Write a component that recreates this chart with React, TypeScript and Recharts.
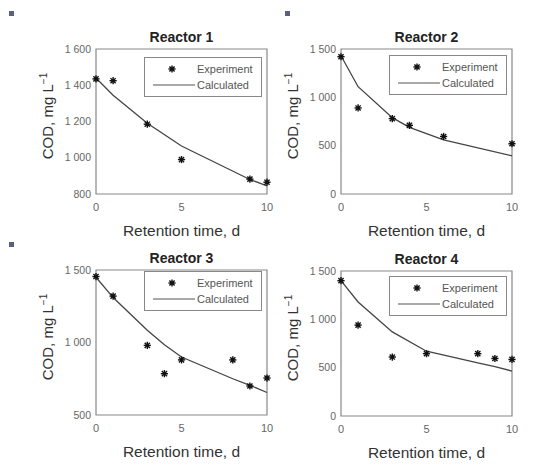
import { ComposedChart, Line, Scatter, XAxis, YAxis, ReferenceArea } from "recharts"

const FONT = '"Liberation Sans", Arial, sans-serif'

// retention times (d) and COD values (mg/L) per reactor
const days1 = [0, 1, 3, 5, 9, 10]
const exp1 = [1435, 1425, 1185, 990, 882, 865]
const calc1 = [1440, 1345, 1190, 1065, 880, 845]

const days2 = [0, 1, 3, 4, 6, 10]
const exp2 = [1420, 890, 780, 710, 595, 520]
const calc2 = [1430, 1110, 790, 690, 560, 395]

const days3 = [0, 1, 3, 4, 5, 8, 9, 10]
const exp3 = [1455, 1320, 980, 785, 880, 880, 700, 755]
const calc3 = [1450, 1310, 1085, 985, 900, 750, 705, 655]

const days4 = [0, 1, 3, 5, 8, 9, 10]
const exp4 = [1400, 940, 610, 645, 645, 595, 585]
const calc4 = [1400, 1180, 870, 670, 550, 510, 465]

const xTicks = [0, 5, 10]
const yTicks1 = [800, 1000, 1200, 1400, 1600]
const yTicks2 = [0, 500, 1000, 1500]
const yTicks3 = [500, 1000, 1500]

const fmt = (v: number) => (v >= 1000 ? `${Math.floor(v / 1000)} ${String(v % 1000).padStart(3, "0")}` : `${v}`)

function Star(props: any) {
  const { cx, cy } = props
  const r = 3.6
  const d = r * 0.72
  return (
    <g stroke="#111" strokeWidth={1.4}>
      <line x1={cx - r} y1={cy} x2={cx + r} y2={cy} />
      <line x1={cx} y1={cy - r} x2={cx} y2={cy + r} />
      <line x1={cx - d} y1={cy - d} x2={cx + d} y2={cy + d} />
      <line x1={cx - d} y1={cy + d} x2={cx + d} y2={cy - d} />
      <circle cx={cx} cy={cy} r={1.8} fill="#111" stroke="none" />
    </g>
  )
}

function LegendBox() {
  return (
    <svg width={118} height={40} style={{ display: "block" }}>
      <rect x={0.5} y={0.5} width={117} height={39} fill="#fff" stroke="#888" />
      <Star cx={28} cy={12} />
      <text x={53} y={16} fontSize={11} fill="#555" fontFamily={FONT}>Experiment</text>
      <line x1={9} y1={28} x2={51} y2={28} stroke="#555" strokeWidth={1.2} />
      <text x={53} y={32} fontSize={11} fill="#555" fontFamily={FONT}>Calculated</text>
    </svg>
  )
}

type PanelProps = {
  title: string
  days: number[]
  exp: number[]
  calc: number[]
  yTicks: number[]
  left: number
  top: number
  legendTop: number
}

function Panel({ title, days, exp, calc, yTicks, left, top, legendTop }: PanelProps) {
  const expData = days.map((d, i) => ({ d, v: exp[i] }))
  const calcData = days.map((d, i) => ({ d, v: calc[i] }))
  const lo = yTicks[0]
  const hi = yTicks[yTicks.length - 1]
  return (
    <div style={{ position: "absolute", left, top, width: 276, height: 235, fontFamily: FONT }}>
      <ComposedChart width={276} height={235} margin={{ top: 49, right: 9, bottom: 0, left: 0 }}>
        <XAxis
          dataKey="d"
          type="number"
          domain={[0, 10]}
          ticks={xTicks}
          height={41}
          axisLine={false}
          tickLine={false}
          tickSize={3}
          tickMargin={6}
          tick={{ fontSize: 11, fill: "#666", fontFamily: FONT }}
          allowDuplicatedCategory={false}
        />
        <YAxis
          dataKey="v"
          type="number"
          domain={[lo, hi]}
          ticks={yTicks}
          width={96}
          axisLine={false}
          tickLine={false}
          tickSize={3}
          tickMargin={2}
          tickFormatter={fmt}
          tick={{ fontSize: 10.5, fill: "#666", fontFamily: FONT }}
        />
        <ReferenceArea x1={0} x2={10} y1={lo} y2={hi} fill="none" stroke="#888" strokeWidth={1.2} />
        <Line data={calcData} dataKey="v" stroke="#444" strokeWidth={1.3} dot={false} isAnimationActive={false} />
        <Scatter data={expData} dataKey="v" shape={<Star />} isAnimationActive={false} />
      </ComposedChart>
      <div style={{ position: "absolute", left: 144, top: legendTop }}>
        <LegendBox />
      </div>
      <div style={{ position: "absolute", left: 96, width: 171, top: 29, textAlign: "center", fontSize: 14, fontWeight: "bold", color: "#222" }}>
        {title}
      </div>
      <div style={{ position: "absolute", left: 96, width: 171, top: 222, textAlign: "center", fontSize: 15.5, color: "#333", whiteSpace: "nowrap" }}>
        Retention time, d
      </div>
      <div
        style={{
          position: "absolute",
          left: 47,
          top: 116,
          transform: "translate(-50%, -50%) rotate(-90deg)",
          fontSize: 15,
          color: "#333",
          whiteSpace: "nowrap",
        }}
      >
        COD, mg L<sup style={{ fontSize: 10 }}>−1</sup>
      </div>
    </div>
  )
}

export default function App() {
  return (
    <div style={{ position: "absolute", left: 0, top: 0, width: 552, height: 470, background: "#fff", overflow: "hidden" }}>
      <div style={{ position: "absolute", left: 9, top: 11, width: 5, height: 5, background: "#5a6080" }} />
      <div style={{ position: "absolute", left: 285, top: 11, width: 5, height: 5, background: "#5a6080" }} />
      <div style={{ position: "absolute", left: 9, top: 242, width: 5, height: 5, background: "#5a6080" }} />
      <Panel title="Reactor 1" days={days1} exp={exp1} calc={calc1} yTicks={yTicks1} left={0} top={0} legendTop={57} />
      <Panel title="Reactor 2" days={days2} exp={exp2} calc={calc2} yTicks={yTicks2} left={245} top={0} legendTop={55} />
      <Panel title="Reactor 3" days={days3} exp={exp3} calc={calc3} yTicks={yTicks3} left={0} top={221} legendTop={50} />
      <Panel title="Reactor 4" days={days4} exp={exp4} calc={calc4} yTicks={yTicks2} left={245} top={222} legendTop={54} />
    </div>
  )
}
